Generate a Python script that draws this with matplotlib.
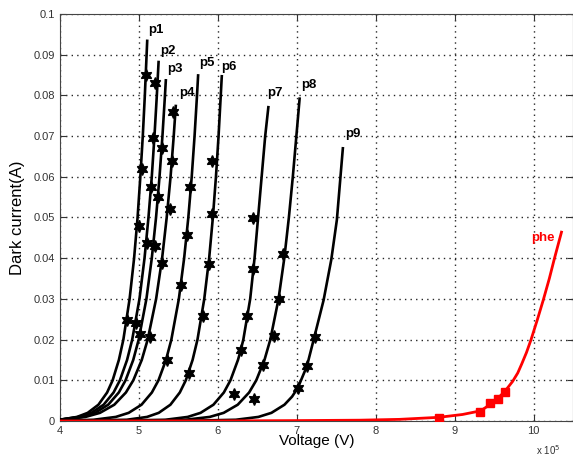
import matplotlib
matplotlib.use("Agg")
import matplotlib.pyplot as plt

plt.rcParams['font.family'] = ['Liberation Sans', 'DejaVu Sans']

# fitted curves: voltage (x 1e5 V) and dark current (A)
p1_v = [4.0, 4.216, 4.351, 4.487, 4.597, 4.667, 4.746, 4.803, 4.882, 4.939, 4.983, 5.018, 5.049, 5.075, 5.105]
p1_i = [0.0003, 0.001, 0.002, 0.004, 0.007, 0.01, 0.015, 0.02, 0.03, 0.04, 0.05, 0.06, 0.07, 0.08, 0.0934]
p2_v = [4.0, 4.240, 4.397, 4.553, 4.679, 4.759, 4.850, 4.915, 5.007, 5.071, 5.121, 5.163, 5.197, 5.227, 5.249]
p2_i = [0.00034, 0.001, 0.002, 0.004, 0.007, 0.01, 0.015, 0.02, 0.03, 0.04, 0.05, 0.06, 0.07, 0.08, 0.0882]
p3_v = [4.0, 4.279, 4.445, 4.611, 4.745, 4.831, 4.928, 4.997, 5.095, 5.163, 5.217, 5.261, 5.298, 5.330, 5.341]
p3_i = [0.00031, 0.001, 0.002, 0.004, 0.007, 0.01, 0.015, 0.02, 0.03, 0.04, 0.05, 0.06, 0.07, 0.08, 0.0837]
p4_v = [4.0, 4.323, 4.506, 4.688, 4.835, 4.929, 5.036, 5.111, 5.218, 5.294, 5.352, 5.401, 5.441, 5.467]
p4_i = [0.00029, 0.001, 0.002, 0.004, 0.007, 0.01, 0.015, 0.02, 0.03, 0.04, 0.05, 0.06, 0.07, 0.0774]
p5_v = [4.0, 4.425, 4.707, 4.870, 5.033, 5.164, 5.248, 5.343, 5.411, 5.506, 5.573, 5.626, 5.669, 5.705, 5.736, 5.750]
p5_i = [0.00005, 0.0003, 0.001, 0.002, 0.004, 0.007, 0.01, 0.015, 0.02, 0.03, 0.04, 0.05, 0.06, 0.07, 0.08, 0.0849]
p6_v = [4.0, 4.846, 5.103, 5.251, 5.399, 5.518, 5.594, 5.680, 5.742, 5.828, 5.890, 5.937, 5.976, 6.009, 6.037, 6.050]
p6_i = [0.00001, 0.0003, 0.001, 0.002, 0.004, 0.007, 0.01, 0.015, 0.02, 0.03, 0.04, 0.05, 0.06, 0.07, 0.08, 0.0847]
p7_v = [4.5, 5.335, 5.618, 5.781, 5.944, 6.076, 6.160, 6.255, 6.290, 6.323, 6.41, 6.465, 6.51, 6.555, 6.60, 6.64]
p7_i = [0.00001, 0.0003, 0.001, 0.002, 0.004, 0.007, 0.01, 0.015, 0.0174, 0.02, 0.03, 0.04, 0.05, 0.06, 0.07, 0.0771]
p8_v = [5.0, 5.588, 5.897, 6.074, 6.252, 6.396, 6.487, 6.591, 6.665, 6.769, 6.842, 6.90, 6.95, 6.995, 7.036]
p8_i = [0.00002, 0.0003, 0.001, 0.002, 0.004, 0.007, 0.01, 0.015, 0.02, 0.03, 0.04, 0.05, 0.06, 0.07, 0.0792]
p9_v = [5.5, 6.227, 6.514, 6.679, 6.844, 6.941, 7.015, 7.129, 7.213, 7.34, 7.437, 7.508, 7.584]
p9_i = [0.00002, 0.0003, 0.001, 0.002, 0.004, 0.006, 0.0082, 0.0135, 0.0199, 0.0297, 0.0396, 0.0494, 0.067]
phe_v = [4.0, 6.0, 7.0, 7.8, 8.3, 8.8, 9.1, 9.33, 9.5, 9.633, 9.734, 9.80, 9.85, 9.91, 9.967, 10.05,
         10.123, 10.2, 10.263, 10.354]
phe_i = [0.0, 0.00002, 0.0001, 0.0002, 0.0004, 0.0009, 0.0016, 0.0025, 0.0047, 0.0072, 0.0097, 0.0118,
         0.014, 0.0168, 0.0199, 0.025, 0.0297, 0.035, 0.0398, 0.0464]

# measured points (stars)
m1_v = [5.092, 5.033, 4.999, 4.843]
m1_i = [0.0849, 0.0619, 0.0479, 0.0248]
m2_v = [5.202, 5.181, 5.147, 5.105, 4.957]
m2_i = [0.0831, 0.0696, 0.0574, 0.0438, 0.024]
m3_v = [5.29, 5.244, 5.206, 5.016]
m3_i = [0.067, 0.0551, 0.0431, 0.0213]
m4_v = [5.438, 5.417, 5.40, 5.29, 5.139]
m4_i = [0.0758, 0.0639, 0.052, 0.0389, 0.0207]
m5_v = [5.653, 5.603, 5.535, 5.354]
m5_i = [0.0574, 0.0457, 0.0334, 0.015]
m6_v = [5.93, 5.923, 5.885, 5.813, 5.636]
m6_i = [0.0638, 0.0508, 0.0385, 0.0258, 0.0119]
m7_v = [6.45, 6.445, 6.374, 6.29, 6.20]
m7_i = [0.0498, 0.0373, 0.0258, 0.0174, 0.0067]
m8_v = [6.825, 6.77, 6.707, 6.572, 6.458]
m8_i = [0.041, 0.0299, 0.0209, 0.0138, 0.0053]
m9_v = [7.226, 7.129, 7.015]
m9_i = [0.0207, 0.0135, 0.0082]
mphe_v = [8.798, 9.326, 9.448, 9.554, 9.633]
mphe_i = [0.0007, 0.0023, 0.0043, 0.0054, 0.0072]

labels = ['p1', 'p2', 'p3', 'p4', 'p5', 'p6', 'p7', 'p8', 'p9']
label_pos = [(5.12, 0.0945), (5.27, 0.0895), (5.36, 0.085), (5.51, 0.079),
             (5.76, 0.0865), (6.04, 0.0855), (6.62, 0.079), (7.05, 0.081), (7.61, 0.069)]

curves = [(p1_v, p1_i), (p2_v, p2_i), (p3_v, p3_i), (p4_v, p4_i), (p5_v, p5_i),
          (p6_v, p6_i), (p7_v, p7_i), (p8_v, p8_i), (p9_v, p9_i)]
marks = [(m1_v, m1_i), (m2_v, m2_i), (m3_v, m3_i), (m4_v, m4_i), (m5_v, m5_i),
         (m6_v, m6_i), (m7_v, m7_i), (m8_v, m8_i), (m9_v, m9_i)]

fig = plt.figure(figsize=(5.73, 4.59), dpi=100)
ax = fig.add_axes([0.1047, 0.0828, 0.8953, 0.8867])

for (cv, ci), (mv, mi) in zip(curves, marks):
    ax.plot(cv, ci, color='black', lw=1.9, zorder=3)
    ax.plot(mv, mi, linestyle='none', marker=(6, 1, 0), markersize=8.5,
            color='black', zorder=4)

ax.plot(phe_v, phe_i, color='red', lw=2.0, zorder=5)
ax.plot(mphe_v, mphe_i, linestyle='none', marker='s', markersize=6,
        color='red', zorder=6)

for lab, (x, y) in zip(labels, label_pos):
    ax.text(x, y, lab, fontsize=9.5, fontweight='bold', color='black',
            ha='left', va='bottom', zorder=7)
ax.text(10.27, 0.0435, 'phe', fontsize=9.5, fontweight='bold', color='red',
        ha='right', va='bottom', zorder=7)

ax.set_xlim(4, 10.5)
ax.set_ylim(0, 0.1)
ax.set_xticks([4, 5, 6, 7, 8, 9, 10])
ax.set_xticklabels(['4', '5', '6', '7', '8', '9', '10'])
yt = [0, 0.01, 0.02, 0.03, 0.04, 0.05, 0.06, 0.07, 0.08, 0.09, 0.1]
ax.set_yticks(yt)
ax.set_yticklabels(['0', '0.01', '0.02', '0.03', '0.04', '0.05', '0.06',
                    '0.07', '0.08', '0.09', '0.1'])
ax.tick_params(direction='in', length=4, labelsize=8, colors='#333333',
               top=True, right=True)
ax.grid(True, linestyle=(0, (1, 3)), color='black', linewidth=1.0, alpha=0.85)
for s in ax.spines.values():
    s.set_color('#444444')
    s.set_linewidth(0.8)

ax.set_xlabel('Voltage (V)', fontsize=11, labelpad=-1)
ax.set_ylabel('Dark current(A)', fontsize=12, labelpad=6)
fig.text(0.935, 0.008, r'x 10$^5$', fontsize=7, color='#333333')

fig.savefig('out.png', dpi=100)
